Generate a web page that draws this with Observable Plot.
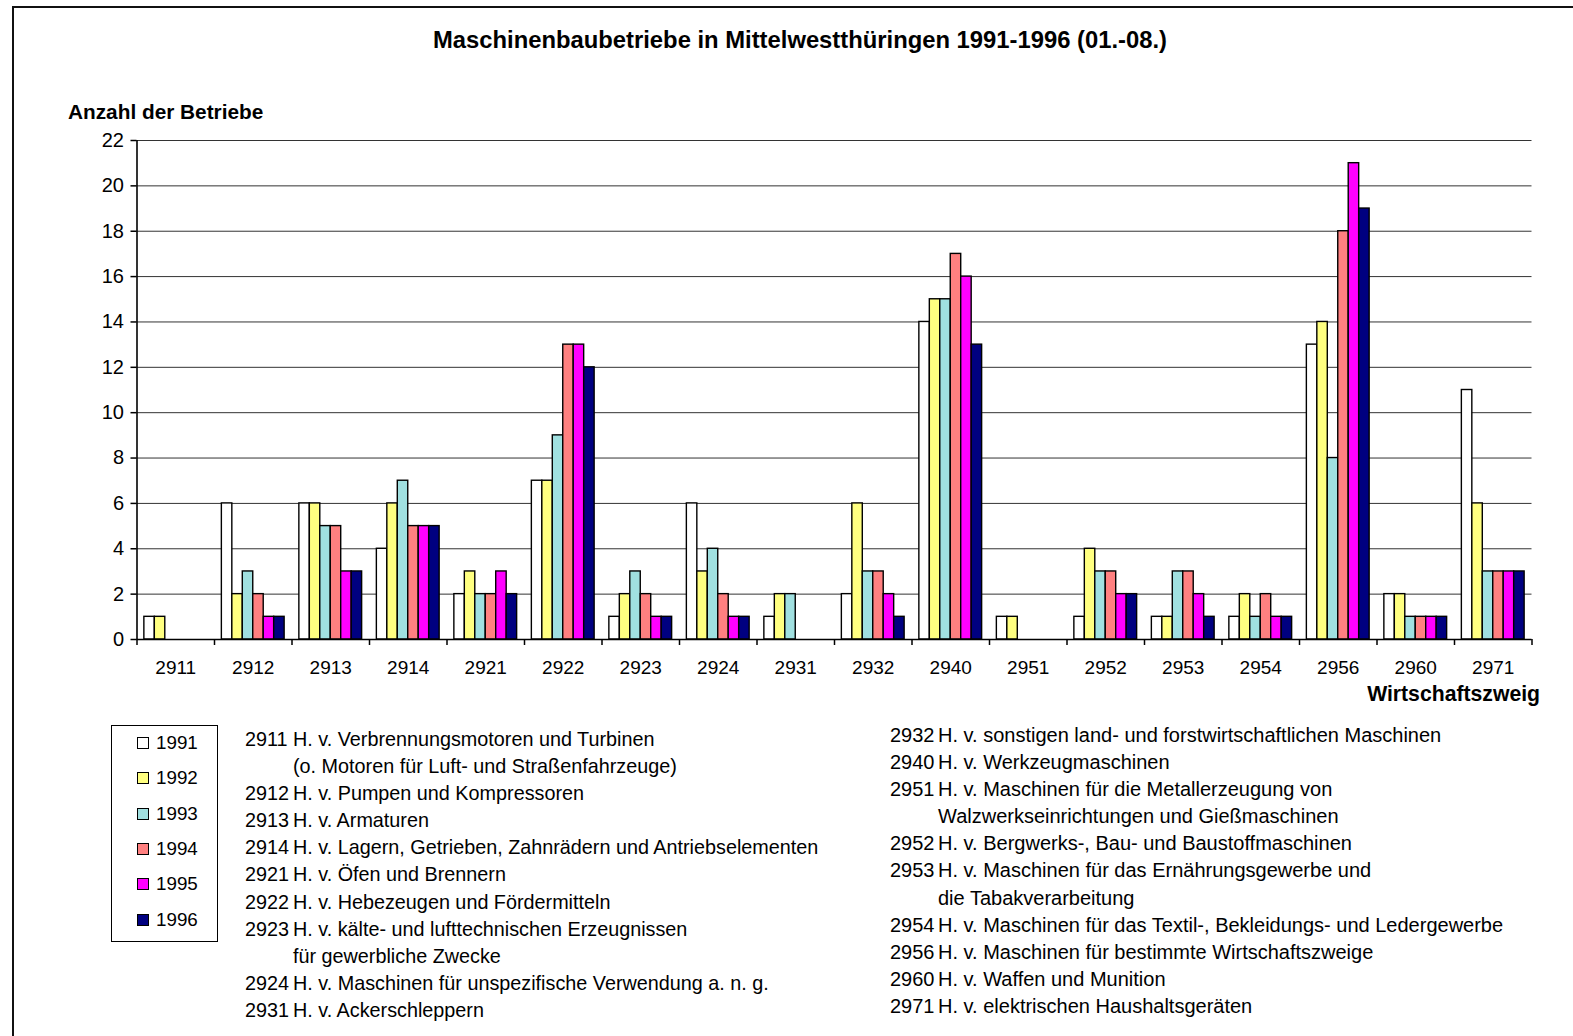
<!DOCTYPE html>
<html><head><meta charset="utf-8">
<script src="https://cdn.jsdelivr.net/npm/d3@7"></script>
<script src="https://cdn.jsdelivr.net/npm/@observablehq/plot@0.6"></script>
<style>
body{margin:0;background:#fff;font-family:"Liberation Sans",Arial,sans-serif;color:#000;}
#page{position:relative;width:1573px;height:1036px;overflow:hidden;background:#fff;}
#frame{position:absolute;left:12px;top:6px;width:1600px;height:1100px;border-top:2px solid #111;border-left:2px solid #111;}
#title{position:absolute;left:0;width:1600px;top:25px;text-align:center;font-weight:bold;font-size:23.8px;line-height:30px;}
#ylab{position:absolute;left:68px;top:99px;font-weight:bold;font-size:20.8px;line-height:26px;}
#xlab{position:absolute;right:33px;top:681px;font-weight:bold;font-size:21.2px;line-height:26px;}
#chart{position:absolute;left:0;top:90px;}
#legend{position:absolute;left:111px;top:725px;width:105px;height:215px;border:1px solid #000;}
.li{position:absolute;left:25px;height:24px;line-height:24px;font-size:18.8px;}
.sw{position:absolute;left:0;top:6px;width:10px;height:10px;border:1px solid #000;}
.lt{position:absolute;left:19px;top:0;}
.col{position:absolute;line-height:27.1px;white-space:nowrap;}
.row{position:relative;height:27.1px;}
.code{position:absolute;left:0;}
.txt{position:absolute;left:48px;}
</style>
</head><body>
<div id="page">
<div id="frame"></div>
<div id="title"></div>
<div id="ylab"></div>
<div id="chart"></div>
<div id="xlab"></div>
<div id="legend"></div>
<div id="descL" class="col" style="left:245px;top:726px;font-size:19.8px;"></div>
<div id="descR" class="col" style="left:890px;top:722px;font-size:20px;"></div>
</div>
<script>
const titleText = "Maschinenbaubetriebe in Mittelwestthüringen 1991-1996 (01.-08.)";
const yLabel = "Anzahl der Betriebe";
const xLabel = "Wirtschaftszweig";
const categories = ["2911","2912","2913","2914","2921","2922","2923","2924","2931","2932","2940","2951","2952","2953","2954","2956","2960","2971"];
const years = ["1991","1992","1993","1994","1995","1996"];
const colors = ["#ffffff","#ffff80","#a0e0e0","#ff8080","#ff00ff","#000080"];
const v1991 = [1,6,6,4,2,7,1,6,1,2,14,1,1,1,1,13,2,11];
const v1992 = [1,2,6,6,3,7,2,3,2,6,15,1,4,1,2,14,2,6];
const v1993 = [0,3,5,7,2,9,3,4,2,3,15,0,3,3,1,8,1,3];
const v1994 = [0,2,5,5,2,13,2,2,0,3,17,0,3,3,2,18,1,3];
const v1995 = [0,1,3,5,3,13,1,1,0,2,16,0,2,2,1,21,1,3];
const v1996 = [0,1,3,5,2,12,1,1,0,1,13,0,2,1,1,19,1,3];
const yTicks = [0,2,4,6,8,10,12,14,16,18,20,22];
const descLeft = [
  ["2911","H. v. Verbrennungsmotoren und Turbinen"],
  ["","(o. Motoren für Luft- und Straßenfahrzeuge)"],
  ["2912","H. v. Pumpen und Kompressoren"],
  ["2913","H. v. Armaturen"],
  ["2914","H. v. Lagern, Getrieben, Zahnrädern und Antriebselementen"],
  ["2921","H. v. Öfen und Brennern"],
  ["2922","H. v. Hebezeugen und Fördermitteln"],
  ["2923","H. v. kälte- und lufttechnischen Erzeugnissen"],
  ["","für gewerbliche Zwecke"],
  ["2924","H. v. Maschinen für unspezifische Verwendung a. n. g."],
  ["2931","H. v. Ackerschleppern"]
];
const descRight = [
  ["2932","H. v. sonstigen land- und forstwirtschaftlichen Maschinen"],
  ["2940","H. v. Werkzeugmaschinen"],
  ["2951","H. v. Maschinen für die Metallerzeugung von"],
  ["","Walzwerkseinrichtungen und Gießmaschinen"],
  ["2952","H. v. Bergwerks-, Bau- und Baustoffmaschinen"],
  ["2953","H. v. Maschinen für das Ernährungsgewerbe und"],
  ["","die Tabakverarbeitung"],
  ["2954","H. v. Maschinen für das Textil-, Bekleidungs- und Ledergewerbe"],
  ["2956","H. v. Maschinen für bestimmte Wirtschaftszweige"],
  ["2960","H. v. Waffen und Munition"],
  ["2971","H. v. elektrischen Haushaltsgeräten"]
];

const series = [v1991, v1992, v1993, v1994, v1995, v1996];
const data = [];
categories.forEach((c, ci) => years.forEach((y, si) => data.push({cat: c, ci, year: y, si, value: series[si][ci]})));

document.getElementById("title").textContent = titleText;
document.getElementById("ylab").textContent = yLabel;
document.getElementById("xlab").textContent = xLabel;

const pad = 0.095, bw = 0.135;
const font = '"Liberation Sans", Arial, sans-serif';
const chart = Plot.plot({
  width: 1573, height: 620,
  marginLeft: 136.5, marginRight: 41.5, marginTop: 50, marginBottom: 71,
  x: {domain: [0, categories.length]},
  y: {domain: [0, 22]},
  color: {domain: years, range: colors},
  style: {fontFamily: font, fontSize: "18px", background: "transparent", color: "#000", overflow: "visible"},
  marks: [
    Plot.gridY({ticks: yTicks, stroke: "#333", strokeOpacity: 1, strokeWidth: 1}),
    Plot.rectY(data.filter(d => d.value > 0), {
      x1: d => d.ci + pad + d.si * bw,
      x2: d => d.ci + pad + (d.si + 1) * bw,
      y1: 0, y2: "value", fill: "year", stroke: "#000", strokeWidth: 1.4
    }),
    Plot.ruleY([0], {stroke: "#000", strokeWidth: 1.6}),
    Plot.ruleX([0], {stroke: "#000", strokeWidth: 1.6}),
    Plot.axisY({ticks: yTicks, tickSize: 6, tickPadding: 7, label: null, fontSize: 20, strokeWidth: 1.5}),
    Plot.axisX({ticks: d3.range(categories.length + 1), tickSize: 6, tickFormat: () => "", label: null, strokeWidth: 1.5}),
    Plot.axisX({ticks: categories.map((c, i) => i + 0.5), tickSize: 0, tickPadding: 21, tickFormat: t => categories[Math.floor(t)], label: null, fontSize: 19})
  ]
});
document.getElementById("chart").appendChild(chart);

const legend = document.getElementById("legend");
years.forEach((y, i) => {
  const li = document.createElement("div");
  li.className = "li";
  li.style.top = (5 + i * 35.3) + "px";
  const sw = document.createElement("div");
  sw.className = "sw";
  sw.style.background = colors[i];
  const lt = document.createElement("div");
  lt.className = "lt";
  lt.textContent = y;
  li.appendChild(sw); li.appendChild(lt);
  legend.appendChild(li);
});

function fillDesc(id, rows) {
  const el = document.getElementById(id);
  rows.forEach(([code, text]) => {
    const r = document.createElement("div");
    r.className = "row";
    const c = document.createElement("span"); c.className = "code"; c.textContent = code;
    const t = document.createElement("span"); t.className = "txt"; t.textContent = text;
    r.appendChild(c); r.appendChild(t);
    el.appendChild(r);
  });
}
fillDesc("descL", descLeft);
fillDesc("descR", descRight);
</script>
</body></html>
